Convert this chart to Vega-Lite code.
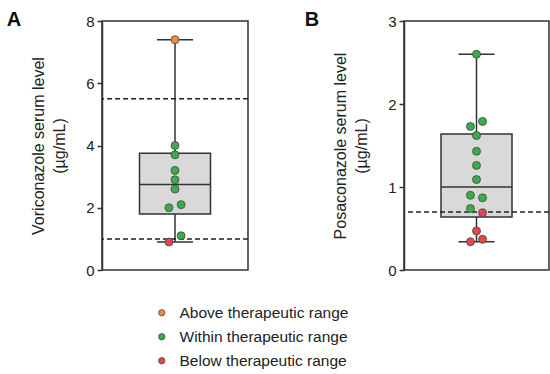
{
  "$schema": "https://vega.github.io/schema/vega-lite/v6.json",
  "padding": {"left": 5, "top": 9, "right": 2, "bottom": 0},
  "spacing": 53,
  "datasets": {
    "sumA": [{"min": 0.9, "q1": 1.8, "median": 2.75, "q3": 3.75, "max": 7.4}],
    "thrA": [{"t": 1.0}, {"t": 5.5}],
    "ptsA": [
      {"v": 7.4, "lane": 0, "status": "Above therapeutic range"},
      {"v": 4.0, "lane": 0, "status": "Within therapeutic range"},
      {"v": 3.7, "lane": 0, "status": "Within therapeutic range"},
      {"v": 3.2, "lane": 0, "status": "Within therapeutic range"},
      {"v": 2.9, "lane": 0, "status": "Within therapeutic range"},
      {"v": 2.6, "lane": 0, "status": "Within therapeutic range"},
      {"v": 2.1, "lane": 1, "status": "Within therapeutic range"},
      {"v": 2.0, "lane": -1, "status": "Within therapeutic range"},
      {"v": 1.1, "lane": 1, "status": "Within therapeutic range"},
      {"v": 0.9, "lane": -1, "status": "Below therapeutic range"}
    ],
    "sumB": [{"min": 0.34, "q1": 0.64, "median": 1.0, "q3": 1.64, "max": 2.6}],
    "thrB": [{"t": 0.7}],
    "ptsB": [
      {"v": 2.6, "lane": 0, "status": "Within therapeutic range"},
      {"v": 1.79, "lane": 1, "status": "Within therapeutic range"},
      {"v": 1.73, "lane": -1, "status": "Within therapeutic range"},
      {"v": 1.62, "lane": 0, "status": "Within therapeutic range"},
      {"v": 1.43, "lane": 0, "status": "Within therapeutic range"},
      {"v": 1.26, "lane": 0, "status": "Within therapeutic range"},
      {"v": 1.09, "lane": 0, "status": "Within therapeutic range"},
      {"v": 0.9, "lane": -1, "status": "Within therapeutic range"},
      {"v": 0.87, "lane": 1, "status": "Within therapeutic range"},
      {"v": 0.74, "lane": -1, "status": "Within therapeutic range"},
      {"v": 0.69, "lane": 1, "status": "Below therapeutic range"},
      {"v": 0.47, "lane": 0, "status": "Below therapeutic range"},
      {"v": 0.37, "lane": 1, "status": "Below therapeutic range"},
      {"v": 0.34, "lane": -1, "status": "Below therapeutic range"}
    ]
  },
  "config": {
    "font": "Liberation Sans",
    "view": {"stroke": "#333333", "strokeWidth": 1.5},
    "axisY": {
      "grid": false,
      "labelFontSize": 15,
      "labelColor": "#222222",
      "labelPadding": 3,
      "tickSize": 5,
      "tickColor": "#333333",
      "tickWidth": 1.5,
      "domainColor": "#333333",
      "domainWidth": 1.5,
      "titleFontSize": 16,
      "titleFontWeight": "normal",
      "titleColor": "#222222",
      "titleLineHeight": 21,
      "titlePadding": 18
    },
    "title": {"fontSize": 20, "fontWeight": "bold", "color": "#111111", "anchor": "start", "frame": "bounds", "offset": -16}
  },
  "hconcat": [
    {
      "width": 146,
      "height": 249,
      "title": {"text": "A", "dx": -24},
      "layer": [
        {
          "data": {"name": "sumA"},
          "mark": {"type": "rule", "color": "#333333", "strokeWidth": 1.5},
          "encoding": {
            "x": {"datum": 0, "type": "quantitative", "scale": {"domain": [-10, 10]}, "axis": null},
            "y": {"field": "min", "type": "quantitative", "scale": {"domain": [0, 8], "nice": false},
                  "axis": {"values": [0, 2, 4, 6, 8], "format": "d", "title": ["Voriconazole serum level", "(µg/mL)"]}},
            "y2": {"field": "max"}
          }
        },
        {
          "data": {"name": "sumA"},
          "mark": {"type": "bar", "width": 71, "fill": "#d9d9d9", "stroke": "#333333", "strokeWidth": 1.5},
          "encoding": {
            "x": {"datum": 0, "type": "quantitative"},
            "y": {"field": "q1", "type": "quantitative"},
            "y2": {"field": "q3"}
          }
        },
        {
          "data": {"name": "sumA"},
          "mark": {"type": "tick", "orient": "horizontal", "size": 71, "thickness": 1.5, "color": "#333333", "opacity": 1},
          "encoding": {
            "x": {"datum": 0, "type": "quantitative"},
            "y": {"field": "median", "type": "quantitative"}
          }
        },
        {
          "data": {"name": "sumA"},
          "transform": [{"fold": ["min", "max"], "as": ["stat", "cap"]}],
          "mark": {"type": "tick", "orient": "horizontal", "size": 36, "thickness": 1.5, "color": "#333333", "opacity": 1},
          "encoding": {
            "x": {"datum": 0, "type": "quantitative"},
            "y": {"field": "cap", "type": "quantitative"}
          }
        },
        {
          "data": {"name": "thrA"},
          "mark": {"type": "rule", "strokeDash": [5, 3], "strokeWidth": 1.5, "color": "#222222"},
          "encoding": {
            "y": {"field": "t", "type": "quantitative"}
          }
        },
        {
          "data": {"name": "ptsA"},
          "mark": {"type": "circle", "size": 64, "stroke": "#444444", "strokeWidth": 0.8, "opacity": 1},
          "encoding": {
            "x": {"field": "lane", "type": "quantitative"},
            "y": {"field": "v", "type": "quantitative"},
            "color": {
              "field": "status", "type": "nominal",
              "scale": {"domain": ["Above therapeutic range", "Within therapeutic range", "Below therapeutic range"],
                        "range": ["#f08a3c", "#3bab4b", "#e2474d"]},
              "legend": {"title": null, "orient": "none", "legendX": 52, "legendY": 284,
                         "labelFontSize": 15.5, "labelColor": "#222222", "labelLimit": 0, "symbolSize": 40, "symbolStrokeWidth": 0.8,
                         "symbolStrokeColor": "#444444", "rowPadding": 7, "labelOffset": 10}
            }
          }
        }
      ]
    },
    {
      "width": 145,
      "height": 249,
      "title": {"text": "B", "dx": -28},
      "layer": [
        {
          "data": {"name": "sumB"},
          "mark": {"type": "rule", "color": "#333333", "strokeWidth": 1.5},
          "encoding": {
            "x": {"datum": 0, "type": "quantitative", "scale": {"domain": [-10, 10]}, "axis": null},
            "y": {"field": "min", "type": "quantitative", "scale": {"domain": [0, 3], "nice": false},
                  "axis": {"values": [0, 1, 2, 3], "format": "d", "title": ["Posaconazole serum level", "(µg/mL)"]}},
            "y2": {"field": "max"}
          }
        },
        {
          "data": {"name": "sumB"},
          "mark": {"type": "bar", "width": 71, "fill": "#d9d9d9", "stroke": "#333333", "strokeWidth": 1.5},
          "encoding": {
            "x": {"datum": 0, "type": "quantitative"},
            "y": {"field": "q1", "type": "quantitative"},
            "y2": {"field": "q3"}
          }
        },
        {
          "data": {"name": "sumB"},
          "mark": {"type": "tick", "orient": "horizontal", "size": 71, "thickness": 1.5, "color": "#333333", "opacity": 1},
          "encoding": {
            "x": {"datum": 0, "type": "quantitative"},
            "y": {"field": "median", "type": "quantitative"}
          }
        },
        {
          "data": {"name": "sumB"},
          "transform": [{"fold": ["min", "max"], "as": ["stat", "cap"]}],
          "mark": {"type": "tick", "orient": "horizontal", "size": 36, "thickness": 1.5, "color": "#333333", "opacity": 1},
          "encoding": {
            "x": {"datum": 0, "type": "quantitative"},
            "y": {"field": "cap", "type": "quantitative"}
          }
        },
        {
          "data": {"name": "thrB"},
          "mark": {"type": "rule", "strokeDash": [5, 3], "strokeWidth": 1.5, "color": "#222222"},
          "encoding": {
            "y": {"field": "t", "type": "quantitative"}
          }
        },
        {
          "data": {"name": "ptsB"},
          "mark": {"type": "circle", "size": 64, "stroke": "#444444", "strokeWidth": 0.8, "opacity": 1},
          "encoding": {
            "x": {"field": "lane", "type": "quantitative"},
            "y": {"field": "v", "type": "quantitative"},
            "color": {"field": "status", "type": "nominal"}
          }
        }
      ]
    }
  ]
}
